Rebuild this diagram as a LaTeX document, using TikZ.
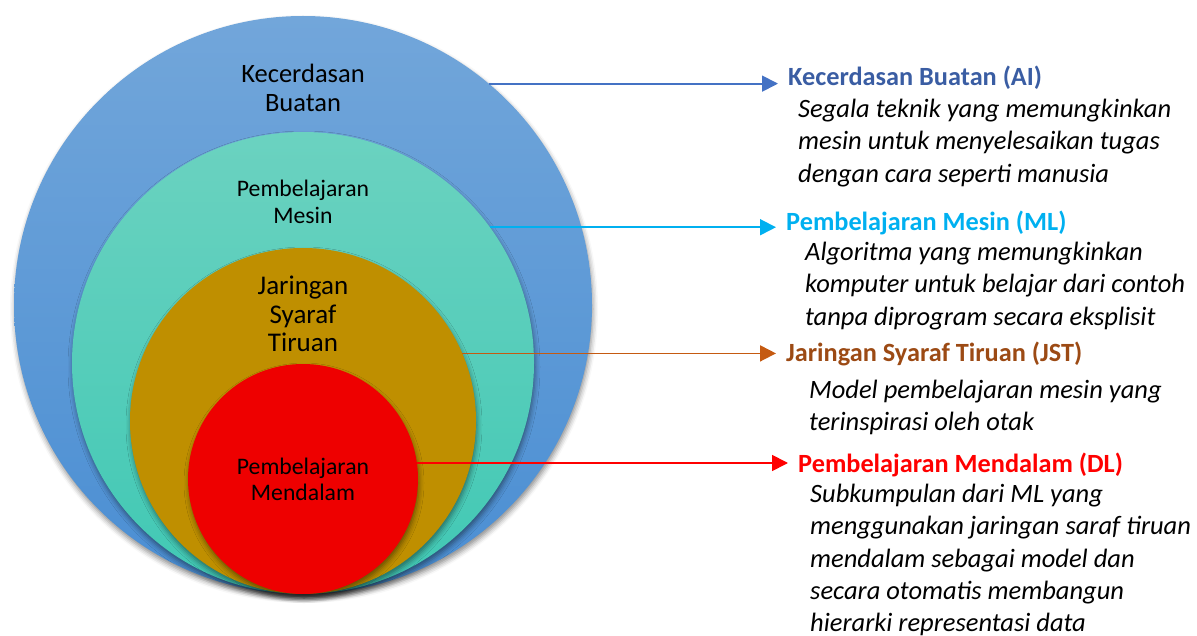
\documentclass[tikz,border=0pt]{standalone}
\usepackage{fontspec}
\setmainfont{Carlito}
\usetikzlibrary{arrows.meta,shadows.blur}
\definecolor{aiblueTop}{HTML}{72A6DA}
\definecolor{aiblueBot}{HTML}{4A8ED3}
\definecolor{mlTop}{HTML}{6BD2C0}
\definecolor{mlBot}{HTML}{40C8B4}
\definecolor{jstFill}{HTML}{BF8F00}
\definecolor{dlFill}{HTML}{EE0000}
\definecolor{aiArrow}{HTML}{4472C4}
\definecolor{aiHead}{HTML}{3A5DA3}
\definecolor{mlCol}{HTML}{00B0F0}
\definecolor{jstArrow}{HTML}{C55A11}
\definecolor{jstHead}{HTML}{9C4A14}
\definecolor{dlCol}{HTML}{FF0000}
\tikzset{
  ring/.style={circle, draw=none, inner sep=0pt, outer sep=0pt,
    blur shadow={shadow xshift=1pt, shadow yshift=-4pt, shadow blur radius=5pt, shadow opacity=45}},
  clabel/.style={align=center, text=black, inner sep=0pt},
  headtxt/.style={anchor=west, inner sep=0pt, font=\fontsize{26.3}{30}\selectfont\bfseries},
  desctxt/.style={anchor=north west, inner sep=0pt, align=left, font=\fontsize{26.5}{32.3}\selectfont\itshape},
  conn/.style={line width=1.8pt, -{Triangle[length=16pt,width=16pt]}, shorten >=10pt}
}
\begin{document}
\begin{tikzpicture}[x=1pt,y=-1pt]
\useasboundingbox (0,0) rectangle (1197,636);
% circles
\node[ring, minimum size=578pt, top color=aiblueTop, bottom color=aiblueBot] (ai) at (303,305) {};
\node[ring, minimum size=462pt, top color=mlTop, bottom color=mlBot] (ml) at (303,363) {};
\node[ring, minimum size=346pt, fill=jstFill] (jst) at (303,421) {};
\node[ring, minimum size=230pt, fill=dlFill] (dl) at (303,479) {};
% circle labels
\node[clabel, font=\fontsize{26.5}{29}\selectfont] (ailab) at (303,88) {Kecerdasan\\Buatan};
\node[clabel, font=\fontsize{23.7}{27}\selectfont] (mllab) at (303,202) {Pembelajaran\\Mesin};
\node[clabel, font=\fontsize{27}{28.5}\selectfont] (jstlab) at (303,314) {Jaringan\\Syaraf\\Tiruan};
\node[clabel, font=\fontsize{23.7}{26}\selectfont] (dllab) at (303,479) {Pembelajaran\\Mendalam};
% headings
\node[headtxt, text=aiHead] (aih) at (788,78) {Kecerdasan Buatan (AI)};
\node[headtxt, text=mlCol] (mlh) at (786,223) {Pembelajaran Mesin (ML)};
\node[headtxt, text=jstHead] (jsth) at (786,354) {Jaringan Syaraf Tiruan (JST)};
\node[headtxt, text=dlCol] (dlh) at (798,465) {Pembelajaran Mendalam (DL)};
% descriptions
\node[desctxt] (aid) at (798,99) {Segala teknik yang memungkinkan\\mesin untuk menyelesaikan tugas\\dengan cara seperti manusia};
\node[desctxt] (mld) at (805,242) {Algoritma yang memungkinkan\\komputer untuk belajar dari contoh\\tanpa diprogram secara eksplisit};
\node[desctxt] (jstd) at (809,380) {Model pembelajaran mesin yang\\terinspirasi oleh otak};
\node[desctxt] (dld) at (810,484) {Subkumpulan dari ML yang\\menggunakan jaringan saraf tiruan\\mendalam sebagai model dan\\secara otomatis membangun\\hierarki representasi data};
% connectors
\draw[conn, aiArrow] (ai.50.8) -- (ai.50.8 -| aih.west);
\draw[conn, mlCol] (ml.36.7) -- (ml.36.7 -| mlh.west);
\draw[conn, jstArrow] (jst.23.2) -- (jst.23.2 -| jsth.west);
\draw[conn, dlCol] (dl.8.5) -- (dl.8.5 -| dlh.west);
\end{tikzpicture}
\end{document}
